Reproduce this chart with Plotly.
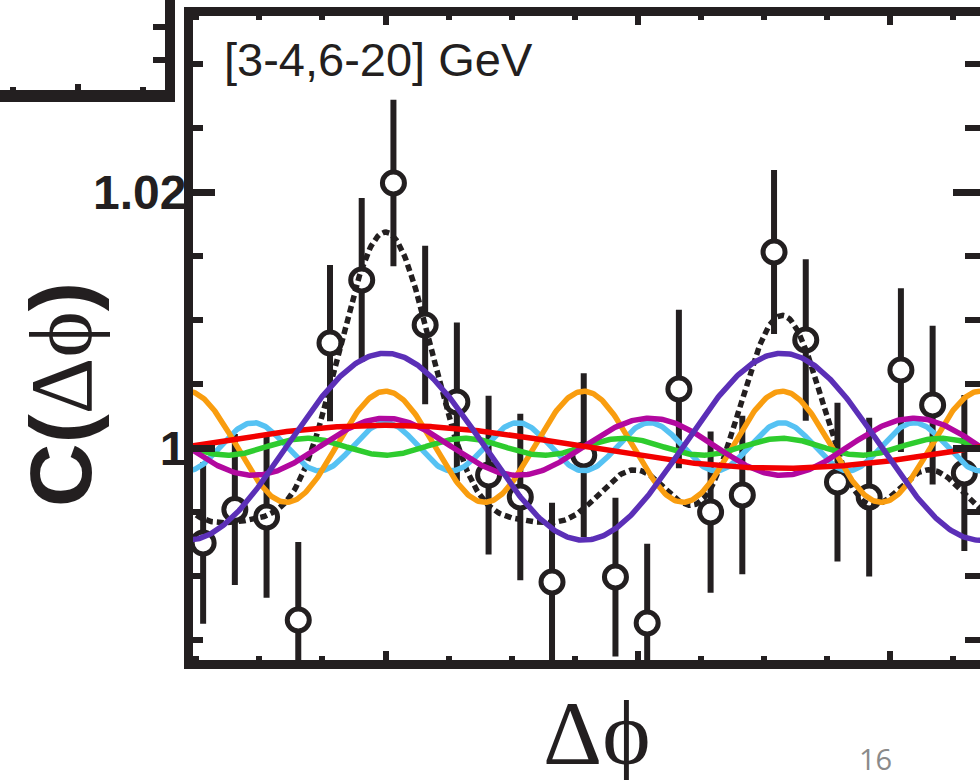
import numpy as np
import plotly.graph_objects as go

# ---------------- data ----------------
dphi = [-1.4451, -1.1938, -0.9425, -0.6912, -0.4398, -0.1885, 0.0628, 0.3142,
        0.5655, 0.8168, 1.0681, 1.3195, 1.5708, 1.8221, 2.0735, 2.3248,
        2.5761, 2.8274, 3.0788, 3.3301, 3.5814, 3.8327, 4.0841, 4.3354, 4.5867]
C_vals = [0.99258, 0.99520, 0.99461, 0.98656, 1.00820, 1.01313, 1.02070, 1.00961,
          1.00360, 0.99789, 0.99617, 0.98953, 0.99945, 0.98992, 0.98633, 1.00461,
          0.99500, 0.99633, 1.01531, 1.00844, 0.99734, 0.99617, 1.00609, 1.00336, 0.99805]
C_errs = [0.0063, 0.0059, 0.0063, 0.0061, 0.0061, 0.0064, 0.0065, 0.0062,
          0.0062, 0.0062, 0.0065, 0.0062, 0.0064, 0.0062, 0.0062, 0.0062,
          0.0063, 0.0062, 0.0064, 0.0063, 0.0062, 0.0062, 0.0064, 0.0062, 0.0061]

# Fourier fit: C = b + sum a_n cos(n dphi)
fit_baseline = 1.0001
harm_order = [1, 2, 3, 4, 5, 6]
harm_amp = [0.00168, 0.0073, 0.00223, 0.00434, -0.00066, 0.00188]
harm_color = {1: "#f20000", 2: "#5b2fb7", 3: "#b2089f", 4: "#f99d0f",
              5: "#2ecc2e", 6: "#56c2f3"}
draw_order = [6, 4, 5, 3, 1, 2]

label_text = "[3-4,6-20] GeV"
ytick_vals = [1.0, 1.02]
ytick_text = ["<b>1</b>", "<b>1.02</b>"]
xtick_vals = [0, 2, 4]

INK = "#231f20"
PHI = "\u03d5"

xs = np.linspace(-np.pi / 2, 3 * np.pi / 2, 600)
amp = dict(zip(harm_order, harm_amp))

fig = go.Figure()

# data points
fig.add_trace(go.Scatter(
    x=dphi, y=C_vals, mode="markers",
    marker=dict(symbol="circle", size=22, color="white",
                line=dict(color=INK, width=5)),
    error_y=dict(type="data", array=C_errs, visible=True,
                 color=INK, thickness=6, width=0),
    showlegend=False, hoverinfo="skip"))

# total fit (dotted)
total = fit_baseline + sum(amp[n] * np.cos(n * xs) for n in harm_order)
fig.add_trace(go.Scatter(x=xs, y=total, mode="lines",
                         line=dict(color=INK, width=5.5, dash="7px,4px"),
                         showlegend=False, hoverinfo="skip"))

for n in draw_order:
    fig.add_trace(go.Scatter(x=xs, y=fit_baseline + amp[n] * np.cos(n * xs),
                             mode="lines",
                             line=dict(color=harm_color[n], width=5.5),
                             showlegend=False, hoverinfo="skip"))

# dummy traces so helper axes are drawn
fig.add_trace(go.Scatter(x=[0], y=[1.0], yaxis="y3", mode="markers",
                         marker=dict(opacity=0), showlegend=False, hoverinfo="skip"))
fig.add_trace(go.Scatter(x=[50], y=[50], xaxis="x2", yaxis="y2", mode="markers",
                         marker=dict(opacity=0), showlegend=False, hoverinfo="skip"))

W, H = 980, 780
yr = [0.98344, 1.03375]
fig.update_layout(
    width=W, height=H, margin=dict(l=0, r=0, t=0, b=0),
    paper_bgcolor="white", plot_bgcolor="white", template="none",
    xaxis=dict(domain=[193 / W, 1.0], range=[-1.5254, 4.7108],
               showgrid=False, zeroline=False, showline=True, linewidth=9,
               linecolor=INK, mirror="ticks", ticks="inside", tickvals=xtick_vals,
               ticklen=9, tickwidth=6, tickcolor=INK, showticklabels=False,
               minor=dict(dtick=0.5, tick0=0, ticks="inside", ticklen=4,
                          tickwidth=6, tickcolor=INK, showgrid=False),
               automargin=False),
    yaxis=dict(domain=[(H - 660) / H, (H - 16) / H], range=yr,
               showgrid=False, zeroline=False, showline=True, linewidth=9,
               linecolor=INK, ticks="inside", tickvals=ytick_vals,
               ticktext=ytick_text, ticklen=22, tickwidth=7, tickcolor=INK,
               ticklabelstandoff=-12,
               tickfont=dict(family="Liberation Sans", size=48, color=INK),
               minor=dict(dtick=0.005, tick0=1.0, ticks="inside", ticklen=10,
                          tickwidth=6, tickcolor=INK, showgrid=False),
               automargin=False),
    yaxis3=dict(overlaying="y", side="right", range=yr, showline=False,
                showgrid=False, zeroline=False, ticks="inside",
                tickvals=ytick_vals, ticklen=27, tickwidth=7, tickcolor=INK,
                showticklabels=False,
                minor=dict(dtick=0.005, tick0=1.0, ticks="inside", ticklen=15,
                           tickwidth=6, tickcolor=INK, showgrid=False),
                automargin=False),
    xaxis2=dict(domain=[0, 165 / W], anchor="y2", range=[0, 165], side="bottom",
                showline=True, linewidth=12, linecolor=INK, showgrid=False,
                zeroline=False, ticks="inside", tickvals=[78], ticklen=6,
                tickwidth=6, tickcolor=INK, showticklabels=False,
                minor=dict(tickvals=[13, 143], ticks="inside", ticklen=3,
                           tickwidth=6, tickcolor=INK, showgrid=False),
                automargin=False),
    yaxis2=dict(domain=[(H - 90) / H, 1.0], anchor="x2", range=[0, 90],
                side="right", showline=True, linewidth=10, linecolor=INK,
                showgrid=False, zeroline=False, ticks="inside",
                tickvals=[30, 63], ticklen=12, tickwidth=6, tickcolor=INK,
                showticklabels=False, automargin=False),
    annotations=[
        dict(text=label_text, x=222 / W, y=(H - 60) / H, xref="paper", yref="paper",
             xanchor="left", yanchor="middle", showarrow=False,
             font=dict(family="Liberation Sans", size=47, color=INK)),
        dict(text="<b>C(</b><span style='font-family:Liberation Serif;font-weight:normal'>\u0394" + PHI + "</span><b>)</b>",
             x=60 / W, y=(H - 395) / H, xref="paper", yref="paper",
             xanchor="center", yanchor="middle", textangle=-90, showarrow=False,
             font=dict(family="Liberation Sans", size=88, color=INK)),
        dict(text="\u0394" + PHI, x=597 / W, y=(H - 733) / H, xref="paper",
             yref="paper", xanchor="center", yanchor="middle", showarrow=False,
             font=dict(family="Liberation Serif", size=92, color=INK)),
        dict(text="16", x=875 / W, y=0.0, xref="paper", yref="paper",
             xanchor="center", yanchor="bottom", showarrow=False,
             font=dict(family="Open Sans", size=29, color="#8a8a8a")),
    ],
)

fig.write_html("out.html")
